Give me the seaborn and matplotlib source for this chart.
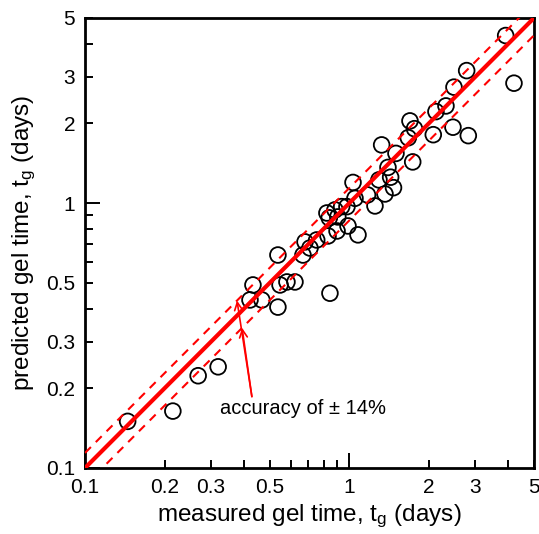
import numpy as np
import pandas as pd
import matplotlib
matplotlib.use("Agg")
import matplotlib.pyplot as plt
import matplotlib.ticker as mticker
import seaborn as sns

# ---- data ----
measured = [0.145, 0.215, 0.268, 0.319, 0.421, 0.432, 0.467, 0.537, 0.537, 0.547,
            0.581, 0.623, 0.668, 0.680, 0.710, 0.753, 0.831, 0.899, 0.823, 0.840,
            0.905, 0.883, 0.936, 0.989, 1.079, 0.980, 1.051, 1.033, 1.172, 1.251,
            1.295, 1.365, 1.434, 1.470, 1.401, 1.326, 1.502, 1.738, 1.672, 1.697,
            1.765, 2.079, 2.128, 2.322, 2.468, 2.490, 2.781, 2.821, 3.907, 4.200,
            0.845]
predicted = [0.150, 0.164, 0.223, 0.241, 0.431, 0.491, 0.431, 0.405, 0.637, 0.491,
             0.504, 0.504, 0.637, 0.714, 0.677, 0.726, 0.752, 0.785, 0.918, 0.880,
             0.887, 0.943, 0.970, 0.820, 0.759, 0.970, 1.043, 1.197, 1.074, 0.976,
             1.224, 1.083, 1.253, 1.144, 1.364, 1.659, 1.541, 1.431, 1.766, 2.044,
             1.910, 1.813, 2.216, 2.328, 1.935, 2.741, 3.165, 1.798, 4.293, 2.837,
             0.457]

line_x = [0.1, 5.0]
accuracy = 0.14
ticks_major = [0.1, 1]
ticks_minor = [0.2, 0.3, 0.4, 0.5, 0.6, 0.7, 0.8, 0.9, 2, 3, 4, 5]
labelled_minor = [0.2, 0.3, 0.5, 2, 3, 5]

annot_text = "accuracy of \u00b1 14%"
annot_text_xy = (0.324, 0.1684)
annot_start = (0.428, 0.186)
annot_tip_upper = 0.376
annot_tip_lower = 0.393

# ---- style ----
sns.set_theme(style="white")
plt.rcParams["font.family"] = ["Liberation Sans", "DejaVu Sans"]
plt.rcParams["mathtext.fontset"] = "custom"
plt.rcParams["mathtext.rm"] = "Liberation Sans"
plt.rcParams["mathtext.default"] = "regular"
plt.rcParams["lines.scale_dashes"] = False

fig = plt.figure(figsize=(5.39, 5.34), dpi=100)
ax = fig.add_axes([0.1577, 0.1236, 0.833, 0.8427])

df = pd.DataFrame({"measured": measured, "predicted": predicted})
lx = np.array(line_x)
lines_df = pd.DataFrame({"x": lx, "y": lx, "yu": lx * (1 + accuracy), "yl": lx * (1 - accuracy)})

sns.scatterplot(data=df, x="measured", y="predicted", ax=ax, s=128,
                facecolor="none", edgecolor="black", linewidth=1.3, zorder=2)
sns.lineplot(data=lines_df, x="x", y="y", ax=ax, color="#ff0000", linewidth=3.0, zorder=3)
sns.lineplot(data=lines_df, x="x", y="yu", ax=ax, color="#ff0000", linewidth=1.5,
             linestyle=(0, (6, 5)), zorder=3)
sns.lineplot(data=lines_df, x="x", y="yl", ax=ax, color="#ff0000", linewidth=1.5,
             linestyle=(0, (6, 5)), zorder=3)

ax.set_xscale("log")
ax.set_yscale("log")
ax.set_xlim(line_x[0], line_x[1])
ax.set_ylim(line_x[0], line_x[1])

def fmt(v, pos=None):
    return f"{v:g}"

def minor_fmt(v, pos=None):
    for t in labelled_minor:
        if abs(v - t) < 1e-9:
            return f"{v:g}"
    return ""

for axis in (ax.xaxis, ax.yaxis):
    axis.set_major_locator(mticker.FixedLocator(ticks_major))
    axis.set_minor_locator(mticker.FixedLocator(ticks_minor))
    axis.set_major_formatter(mticker.FuncFormatter(fmt))
    axis.set_minor_formatter(mticker.FuncFormatter(minor_fmt))

ax.tick_params(which="both", direction="in", labelsize=15, width=1.4, color="black",
               labelcolor="black", bottom=True, left=True, top=False, right=False, pad=7)
ax.tick_params(which="major", length=10.8)
ax.tick_params(which="minor", length=5.8)

for sp in ax.spines.values():
    sp.set_visible(True)
    sp.set_color("black")
    sp.set_linewidth(2.0)

ax.set_xlabel("measured gel time, t$_{g}$ (days)", fontsize=17.5, color="black", labelpad=4)
ax.set_ylabel("predicted gel time, t$_{g}$ (days)", fontsize=17.5, color="black", labelpad=6)

ax.text(annot_text_xy[0], annot_text_xy[1], annot_text, fontsize=14.5, color="black",
        ha="left", va="center")
for tipx, fac in ((annot_tip_upper, 1 + accuracy), (annot_tip_lower, 1 - accuracy)):
    ax.annotate("", xy=(tipx, tipx * fac), xytext=annot_start,
                arrowprops=dict(arrowstyle="->", color="#ff0000", lw=1.2,
                                shrinkA=0, shrinkB=0, mutation_scale=14))

fig.savefig("out.png", dpi=100)
